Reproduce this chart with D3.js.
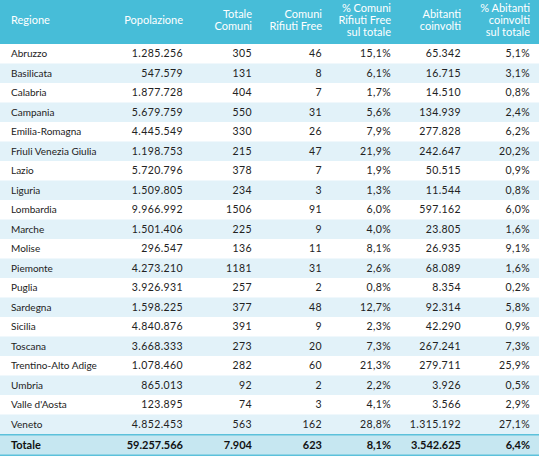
<!DOCTYPE html>
<html><head><meta charset="utf-8">
<script src="https://cdn.jsdelivr.net/npm/d3@7"></script>
<style>
body{margin:0;background:#fff;}
svg{display:block;font-family:Lato,"Open Sans",sans-serif;}
</style></head>
<body>
<script>
const headers = [["Regione"],["Popolazione"],["Totale","Comuni"],["Comuni","Rifiuti Free"],["% Comuni","Rifiuti Free","sul totale"],["Abitanti","coinvolti"],["% Abitanti","coinvolti","sul totale"]];
const regions = ["Abruzzo","Basilicata","Calabria","Campania","Emilia-Romagna","Friuli Venezia Giulia","Lazio","Liguria","Lombardia","Marche","Molise","Piemonte","Puglia","Sardegna","Sicilia","Toscana","Trentino-Alto Adige","Umbria","Valle d'Aosta","Veneto"];
const popolazione = [1285256,547579,1877728,5679759,4445549,1198753,5720796,1509805,9966992,1501406,296547,4273210,3926931,1598225,4840876,3668333,1078460,865013,123895,4852453];
const totaleComuni = [305,131,404,550,330,215,378,234,1506,225,136,1181,257,377,391,273,282,92,74,563];
const comuniFree = [46,8,7,31,26,47,7,3,91,9,11,31,2,48,9,20,60,2,3,162];
const pctComuni = [15.1,6.1,1.7,5.6,7.9,21.9,1.9,1.3,6.0,4.0,8.1,2.6,0.8,12.7,2.3,7.3,21.3,2.2,4.1,28.8];
const abitanti = [65342,16715,14510,134939,277828,242647,50515,11544,597162,23805,26935,68089,8354,92314,42290,267241,279711,3926,3566,1315192];
const pctAbitanti = [5.1,3.1,0.8,2.4,6.2,20.2,0.9,0.8,6.0,1.6,9.1,1.6,0.2,5.8,0.9,7.3,25.9,0.5,2.9,27.1];
const totale = ["Totale",59257566,7904,623,8.1,3542625,6.4];

const W=539,H=457;
const loc = d3.formatLocale({decimal:",",thousands:".",grouping:[3],currency:["€",""]});
const fInt = loc.format(",d"), fPlain = loc.format("d"), fPct = v => loc.format(",.1f")(v)+"%";

const rows = regions.map((r,i)=>[r,fInt(popolazione[i]),fPlain(totaleComuni[i]),fPlain(comuniFree[i]),fPct(pctComuni[i]),fInt(abitanti[i]),fPct(pctAbitanti[i])]);
const totRow = [totale[0],fInt(totale[1]),fInt(totale[2]),fPlain(totale[3]),fPct(totale[4]),fInt(totale[5]),fPct(totale[6])];

const headH=44, rowH=19.5;
const y = d3.scaleBand().domain(d3.range(regions.length)).range([headH, headH+rowH*regions.length]).padding(0);
const colX = d3.scaleOrdinal().domain(d3.range(7)).range([11,183,252,322,391,461,530]);

const svg = d3.select("body").append("svg").attr("width",W).attr("height",H);
svg.append("rect").attr("x",0).attr("y",0).attr("width",W).attr("height",headH).attr("fill","#47bdd8");
headers.forEach((lines,c)=>{
  const t = svg.append("text").attr("x",colX(c)).attr("text-anchor",c===0?"start":"end")
    .attr("fill","#fff").attr("font-size",11);
  const lh=12, y0 = 20 - (lines.length-1)*lh/2 + 4;
  lines.forEach((l,k)=>t.append("tspan").attr("x",colX(c)).attr("y",y0+k*lh).text(l));
});

const g = svg.selectAll("g.row").data(rows).join("g").attr("class","row")
  .attr("transform",(d,i)=>`translate(0,${y(i)})`);
g.append("rect").attr("width",W).attr("height",y.bandwidth()).attr("fill",(d,i)=>i%2?"#e2f2f9":"#ffffff");
g.selectAll("text").data(d=>d).join("text")
  .attr("x",(d,c)=>colX(c)).attr("y",y.bandwidth()/2+3.6)
  .attr("text-anchor",(d,c)=>c===0?"start":"end")
  .attr("letter-spacing",(d,c)=>c===0?0:0.4)
  .attr("fill","#222").attr("font-size",(d,c)=>c===0?10:10.5).text(d=>d);

const ty = headH+rowH*regions.length;
svg.append("rect").attr("x",0).attr("y",ty).attr("width",W).attr("height",22).attr("fill","#c6e7f1");
svg.append("rect").attr("x",0).attr("y",ty).attr("width",W).attr("height",1.5).attr("fill","#5cc1db");
svg.append("rect").attr("x",0).attr("y",ty+20.5).attr("width",W).attr("height",1.5).attr("fill","#5cc1db");
svg.selectAll("text.tot").data(totRow).join("text").attr("class","tot")
  .attr("x",(d,c)=>colX(c)).attr("y",ty+11+4)
  .attr("text-anchor",(d,c)=>c===0?"start":"end")
  .attr("fill","#111").attr("font-size",11).attr("font-weight","bold").text(d=>d);
</script>
</body></html>
